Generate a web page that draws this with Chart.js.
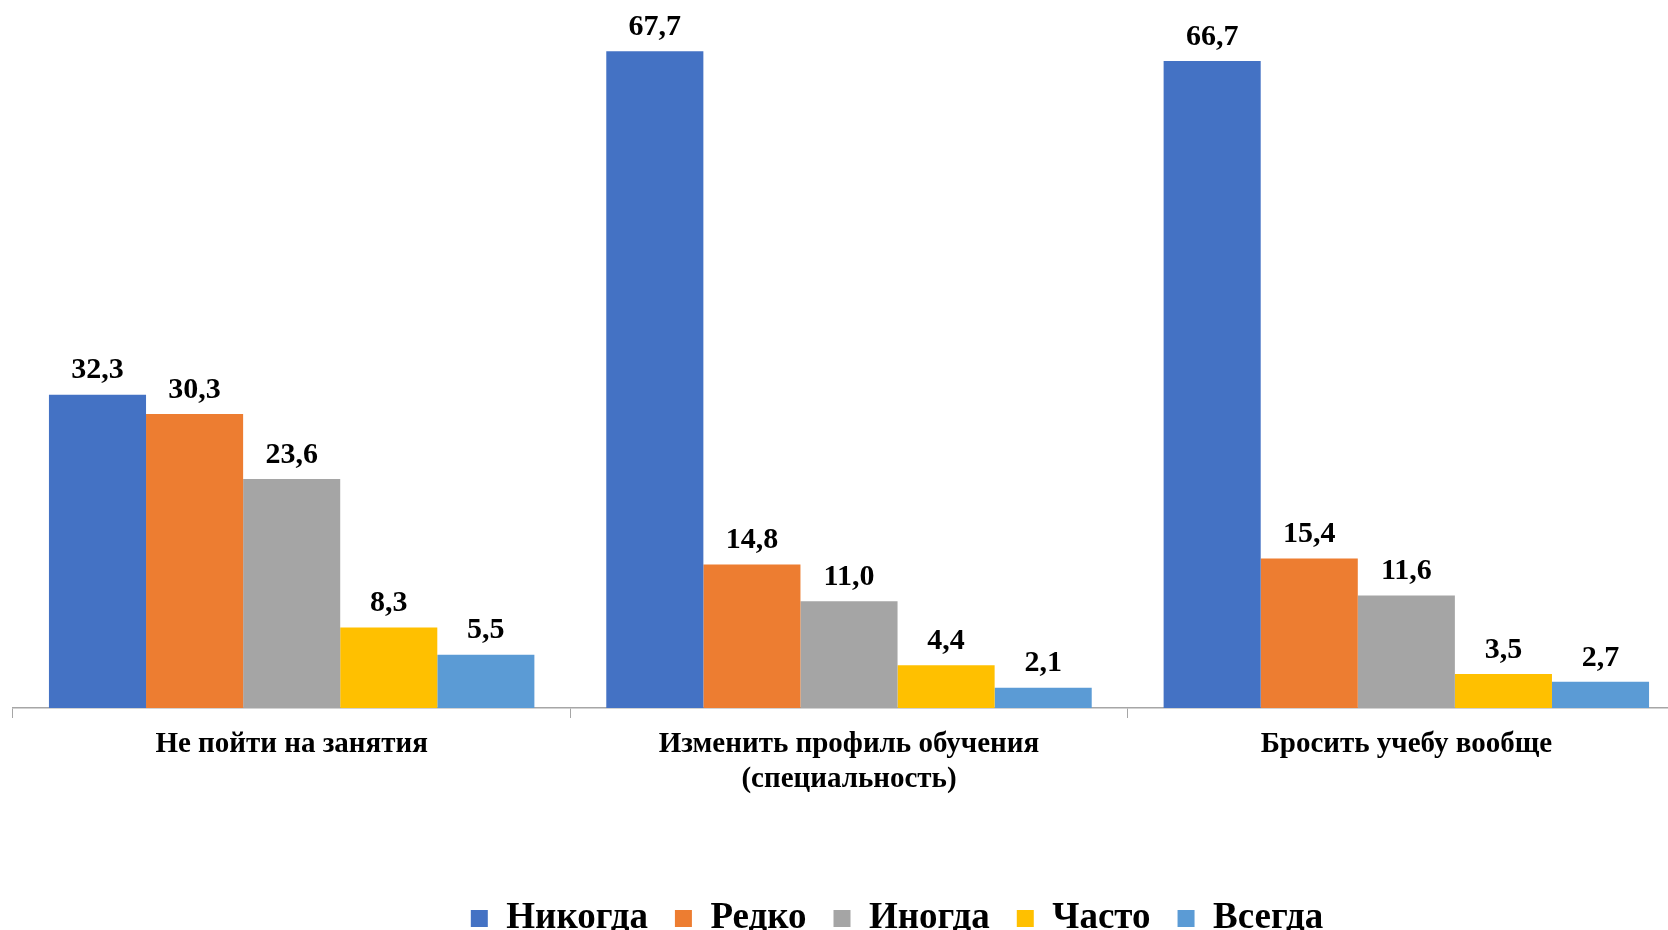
<!DOCTYPE html>
<html>
<head>
<meta charset="utf-8">
<script src="https://cdn.jsdelivr.net/npm/chart.js@4.4.1/dist/chart.umd.min.js"></script>
<style>
  html, body { margin: 0; padding: 0; background: #fff; overflow: hidden; }
  #wrap { position: relative; width: 1690px; height: 951px; }
</style>
</head>
<body>
<div id="wrap"><canvas id="chart"></canvas></div>
<script>
  // Categories (x axis), one label per group
  const categories = [
    'Не пойти на занятия',
    ['Изменить профиль обучения', '(специальность)'],
    'Бросить учебу вообще'
  ];

  // Series values, one array per answer
  const seriesNames = ['Никогда', 'Редко', 'Иногда', 'Часто', 'Всегда'];
  const never = [32.3, 67.7, 66.7];
  const rarely = [30.3, 14.8, 15.4];
  const sometimes = [23.6, 11.0, 11.6];
  const often = [8.3, 4.4, 3.5];
  const always = [5.5, 2.1, 2.7];

  const seriesColors = ['#4472C4', '#ED7D31', '#A5A5A5', '#FFC000', '#5B9BD5'];
  const serif = '"Liberation Serif", "Times New Roman", serif';

  const datasets = [never, rarely, sometimes, often, always].map(function (values, i) {
    return {
      label: seriesNames[i],
      data: values,
      backgroundColor: seriesColors[i],
      borderWidth: 0,
      categoryPercentage: 0.871,
      barPercentage: 1.0
    };
  });

  // Value labels above every bar, comma as decimal mark
  const valueLabels = {
    id: 'valueLabels',
    afterDatasetsDraw: function (chart) {
      const ctx = chart.ctx;
      ctx.save();
      ctx.font = 'bold 30px ' + serif;
      ctx.fillStyle = '#000';
      ctx.textAlign = 'center';
      ctx.textBaseline = 'bottom';
      chart.data.datasets.forEach(function (dataset, di) {
        const meta = chart.getDatasetMeta(di);
        meta.data.forEach(function (bar, i) {
          const text = dataset.data[i].toFixed(1).replace('.', ',');
          ctx.fillText(text, bar.x, bar.y - 9);
        });
      });
      ctx.restore();
    }
  };

  // The legend in the source sits a bit right of the canvas centre
  const legendNudge = {
    id: 'legendNudge',
    afterLayout: function (chart) {
      if (!chart.legend) return;
      chart.legend.left += 96;
      chart.legend.top -= 4;
    }
  };

  new Chart(document.getElementById('chart'), {
    type: 'bar',
    data: { labels: categories, datasets: datasets },
    plugins: [valueLabels, legendNudge],
    options: {
      responsive: true,
      maintainAspectRatio: false,
      animation: false,
      layout: { padding: { top: 29, left: 13, right: 5, bottom: 0 } },
      plugins: {
        tooltip: { enabled: false },
        legend: {
          position: 'bottom',
          labels: {
            boxWidth: 17,
            boxHeight: 17,
            padding: 27,
            color: '#000',
            font: { family: serif, size: 37, weight: 'bold', lineHeight: 1 }
          }
        }
      },
      scales: {
        x: {
          afterFit: function (scale) { scale.height = 169; },
          grid: {
            offset: true,
            drawOnChartArea: false,
            drawTicks: true,
            tickLength: 10,
            color: '#A6A6A6'
          },
          border: { display: true, color: '#A6A6A6', width: 1.5 },
          ticks: {
            color: '#000',
            padding: 9,
            maxRotation: 0,
            autoSkip: false,
            font: { family: serif, size: 29, weight: 'bold', lineHeight: 1.2 }
          }
        },
        y: {
          display: false,
          min: 0,
          max: 70
        }
      }
    }
  });
</script>
</body>
</html>
